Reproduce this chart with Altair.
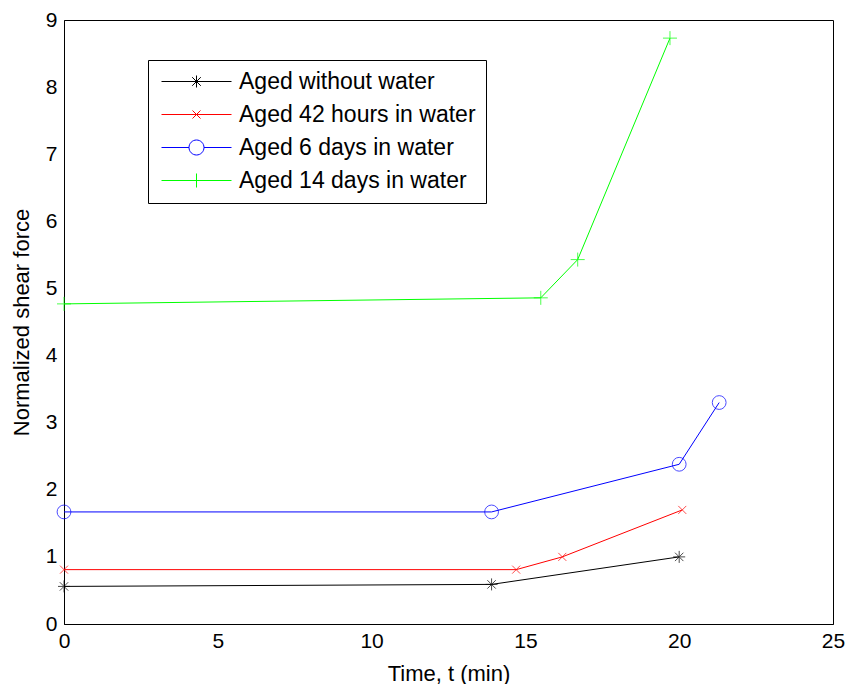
import altair as alt
import pandas as pd

series_names = ["Aged without water", "Aged 42 hours in water",
                "Aged 6 days in water", "Aged 14 days in water"]
colors = ["#000000", "#ff0000", "#0000ff", "#00ff00"]
# marker shapes for the data points (unit box)
shapes = [
    "M-1,0L1,0M0,-1L0,1M-0.7,-0.7L0.7,0.7M-0.7,0.7L0.7,-0.7",
    "M-0.8,-0.8L0.8,0.8M-0.8,0.8L0.8,-0.8",
    "circle",
    "M-1,0L1,0M0,-1L0,1",
]
marker_sizes = [144, 100, 190, 196]
# legend symbols: line with marker (pixel units, symbolSize=4 -> scale 1)
legend_symbols = [
    "M-8,0L62,0M27,-6L27,6M22.7,-4.3L31.3,4.3M22.7,4.3L31.3,-4.3",
    "M-8,0L62,0M23,-4L31,4M23,4L31,-4",
    "M-8,0L19.5,0M34.5,0L62,0M34.5,0A7.5,7.5,0,1,1,19.5,0A7.5,7.5,0,1,1,34.5,0",
    "M-8,0L62,0M27,-7L27,7",
]

black_t = [0, 13.9, 20.0]
black_f = [0.56, 0.59, 1.0]
red_t = [0, 14.7, 16.2, 20.1]
red_f = [0.81, 0.81, 1.0, 1.7]
blue_t = [0, 13.9, 20.0, 21.3]
blue_f = [1.67, 1.67, 2.38, 3.3]
green_t = [0, 15.5, 16.7, 19.7]
green_f = [4.77, 4.86, 5.43, 8.73]

x_ticks = [0, 5, 10, 15, 20, 25]
y_ticks = [0, 1, 2, 3, 4, 5, 6, 7, 8, 9]

rows = []
for name, ts, fs in zip(series_names, [black_t, red_t, blue_t, green_t],
                        [black_f, red_f, blue_f, green_f]):
    for i, (t, f) in enumerate(zip(ts, fs)):
        rows.append({"series": name, "t": t, "f": f, "i": i})
df = pd.DataFrame(rows)


def per_entry(values):
    e = ""
    for name, v in zip(series_names[:-1], values[:-1]):
        e += f"datum.value === '{name}' ? '{v}' : "
    return e + f"'{values[-1]}'"


FONT = "Liberation Sans"

x_enc = alt.X("t:Q", scale=alt.Scale(domain=[0, 25], nice=False),
              axis=alt.Axis(title="Time, t (min)", values=x_ticks, grid=False,
                            ticks=False, labelPadding=6, titlePadding=12,
                            domainColor="black", labelColor="black",
                            titleColor="black", labelFont=FONT, titleFont=FONT,
                            labelFontSize=21, titleFontSize=22, format="d",
                            titleFontWeight="normal", labelFlush=False))
y_enc = alt.Y("f:Q", scale=alt.Scale(domain=[0, 9], nice=False),
              axis=alt.Axis(title="Normalized shear force", values=y_ticks,
                            grid=False, ticks=False, labelPadding=7,
                            titlePadding=12, domainColor="black", format="d",
                            labelColor="black", titleColor="black",
                            labelFont=FONT, titleFont=FONT, labelFontSize=21,
                            titleFontSize=22, titleFontWeight="normal",
                            labelFlush=False))

color_scale = alt.Scale(domain=series_names, range=colors)

base = alt.Chart(df)

lines = base.mark_line(strokeWidth=1).encode(
    x=x_enc, y=y_enc, order="i:Q",
    color=alt.Color("series:N", scale=color_scale,
                    legend=alt.Legend(title=None, orient="none",
                                      legendX=84, legendY=40,
                                      symbolType={"expr": per_entry(legend_symbols)},
                                      symbolStrokeColor={"expr": per_entry(colors)},
                                      symbolSize=4, symbolStrokeWidth=1,
                                      symbolFillColor="transparent",
                                      labelFont=FONT, labelFontSize=23,
                                      labelColor="black", labelOffset=58,
                                      strokeColor="black", fillColor="white",
                                      padding=10, rowPadding=9,
                                      labelLimit=400)),
)

point_layers = []
for name, col, shp, sz in zip(series_names, colors, shapes, marker_sizes):
    point_layers.append(
        base.transform_filter(alt.datum.series == name)
        .mark_point(filled=False, strokeWidth=1, color=col, shape=shp, size=sz)
        .encode(x="t:Q", y="f:Q")
    )

chart = alt.layer(lines, *point_layers).properties(
    width=769, height=604,
    autosize=alt.AutoSizeParams(type="none"),
    padding={"left": 56, "top": 12, "right": 12, "bottom": 60},
    background="white",
).configure_view(stroke="black", strokeWidth=1)

chart.save("out.html", embed_options={"renderer": "svg", "actions": False})
